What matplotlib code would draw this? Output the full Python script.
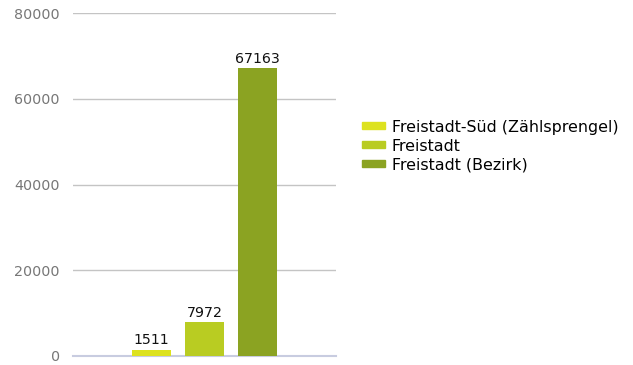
import matplotlib.pyplot as plt
from matplotlib.patches import Patch

# Einwohner im Vergleich
regions = ['Freistadt-Süd (Zählsprengel)', 'Freistadt', 'Freistadt (Bezirk)']
population = [1511, 7972, 67163]
colors = ['#dde21f', '#b9cc22', '#8ba322']
y_ticks = [0, 20000, 40000, 60000, 80000]

fig = plt.figure(figsize=(6.33, 3.65), dpi=100)
ax = fig.add_axes([0.1153, 0.0247, 0.4155, 0.939])

x = range(len(regions))
bars = ax.bar(x, population, width=0.74, color=colors, zorder=3)
for rect, val in zip(bars, population):
    ax.text(rect.get_x() + rect.get_width() / 2, val + 500, str(val),
            ha='center', va='bottom', fontsize=10.2, color='#111111')

ax.set_xlim(-1.48, 3.48)
ax.set_ylim(0, 80000)
ax.set_yticks(y_ticks)
ax.set_yticklabels([str(t) for t in y_ticks])
ax.set_xticks([])
ax.tick_params(axis='y', length=0, pad=9.5, labelsize=10.3, labelcolor='#777777')
ax.grid(axis='y', color='#c4c4c4', linewidth=1, zorder=0)
for side in ['left', 'right', 'top']:
    ax.spines[side].set_visible(False)
ax.spines['bottom'].set_color('#c8cce0')
ax.spines['bottom'].set_linewidth(1.5)

handles = [Patch(color=c, label=r) for c, r in zip(colors, regions)]
fig.legend(handles=handles, loc='center left', bbox_to_anchor=(0.5615, 0.6),
           frameon=False, fontsize=11.4, handlelength=1.45, handleheight=0.3,
           handletextpad=0.45, labelspacing=0.25, borderaxespad=0)

fig.savefig('out.png', dpi=100)
